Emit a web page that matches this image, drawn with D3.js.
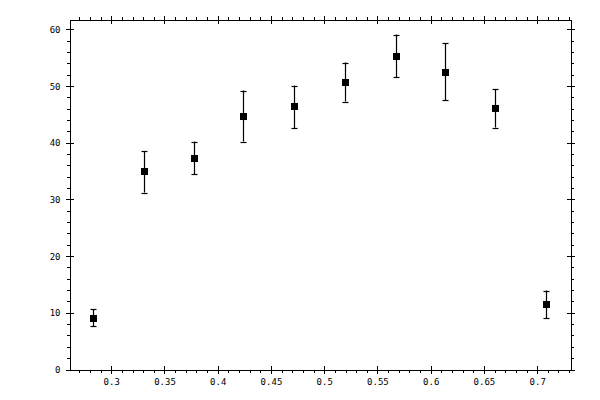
<!DOCTYPE html>
<html>
<head>
<meta charset="utf-8">
<script src="https://cdn.jsdelivr.net/npm/d3@7"></script>
<style>
  body { margin: 0; background: #fff; }
  svg { display: block; }
  .tick text { font-family: "DejaVu Sans Mono", monospace; font-size: 9px; fill: #000; }
  .axis path, .axis line { stroke: #000; shape-rendering: crispEdges; }
</style>
</head>
<body>
<div id="chart"></div>
<script>
// values
const xValues = [0.2824, 0.3303, 0.3773, 0.4242, 0.4721, 0.5191, 0.5673, 0.6139, 0.6608, 0.7087];
const yValues = [9.0, 34.94, 37.23, 44.64, 46.41, 50.64, 55.23, 52.41, 46.06, 11.47];
const yHigh   = [10.59, 38.47, 40.23, 49.23, 50.11, 54.17, 59.11, 57.53, 49.41, 13.94];
const yLow    = [7.64, 31.23, 34.41, 40.23, 42.53, 47.29, 51.53, 47.47, 42.70, 9.0];

const xTicks = [0.3, 0.35, 0.4, 0.45, 0.5, 0.55, 0.6, 0.65, 0.7];
const xTickLabels = ["0.3", "0.35", "0.4", "0.45", "0.5", "0.55", "0.6", "0.65", "0.7"];
const yTicks = [0, 10, 20, 30, 40, 50, 60];
const yTickLabels = ["0", "10", "20", "30", "40", "50", "60"];

const width = 600;
const height = 400;
const plotLeft = 69.5, plotRight = 570.5, plotTop = 19.5, plotBottom = 369.5;

const x = d3.scaleLinear().domain([0.2608, 0.7313]).range([plotLeft, plotRight]);
const y = d3.scaleLinear().domain([0, 61.76]).range([plotBottom, plotTop]);

// minor ticks every 0.01 on x and every 2 on y
const xMinor = d3.range(27, 74).map(d => d / 100).filter(d => !xTicks.some(t => Math.abs(t - d) < 1e-9));
const yMinor = d3.range(2, 62, 2).filter(d => d % 10 !== 0);

const svg = d3.select("#chart").append("svg")
    .attr("width", width)
    .attr("height", height);

function drawAxis(axisFn, scale, transform, ticks, size, labels) {
    const g = svg.append("g")
        .attr("class", "axis")
        .attr("transform", transform)
        .call(axisFn(scale)
            .tickValues(ticks)
            .tickSizeInner(size)
            .tickSizeOuter(0)
            .tickPadding(size > 0 ? 5 : 0)
            .tickFormat((d, i) => labels ? labels[i] : ""));
    return g;
}

// bottom axis
drawAxis(d3.axisBottom, x, `translate(0,${plotBottom})`, xTicks, 4, xTickLabels).select(".domain").remove();
drawAxis(d3.axisBottom, x, `translate(0,${plotBottom})`, xTicks, -4, null).select(".domain").remove();
drawAxis(d3.axisBottom, x, `translate(0,${plotBottom})`, xMinor, 3, null);
// top axis
drawAxis(d3.axisTop, x, `translate(0,${plotTop})`, xTicks, 4, null).select(".domain").remove();
drawAxis(d3.axisTop, x, `translate(0,${plotTop})`, xTicks, -4, null).select(".domain").remove();
drawAxis(d3.axisTop, x, `translate(0,${plotTop})`, xMinor, 3, null);
// left axis
drawAxis(d3.axisLeft, y, `translate(${plotLeft},0)`, yTicks, 4, yTickLabels).select(".domain").remove();
drawAxis(d3.axisLeft, y, `translate(${plotLeft},0)`, yTicks, -4, null).select(".domain").remove();
drawAxis(d3.axisLeft, y, `translate(${plotLeft},0)`, yMinor, 3, null);
// right axis
drawAxis(d3.axisRight, y, `translate(${plotRight},0)`, yTicks, 4, null).select(".domain").remove();
drawAxis(d3.axisRight, y, `translate(${plotRight},0)`, yTicks, -4, null).select(".domain").remove();
drawAxis(d3.axisRight, y, `translate(${plotRight},0)`, yMinor, 3, null);

svg.selectAll(".axis .tick text").filter(function () { return this.textContent === ""; }).remove();

const data = xValues.map((d, i) => ({ x: d, y: yValues[i], hi: yHigh[i], lo: yLow[i] }));

const points = svg.append("g").selectAll("g")
    .data(data)
    .enter().append("g");

// error bars
points.append("line")
    .attr("x1", d => Math.round(x(d.x)) + 0.5)
    .attr("x2", d => Math.round(x(d.x)) + 0.5)
    .attr("y1", d => y(d.hi))
    .attr("y2", d => y(d.lo))
    .attr("stroke", "#000")
    .attr("stroke-width", 1.2);

points.selectAll(".cap")
    .data(d => [d.hi, d.lo].map(v => ({ x: d.x, v: v })))
    .enter().append("line")
    .attr("class", "cap")
    .attr("x1", d => Math.round(x(d.x)) + 0.5 - 3)
    .attr("x2", d => Math.round(x(d.x)) + 0.5 + 3)
    .attr("y1", d => Math.round(y(d.v)) + 0.5)
    .attr("y2", d => Math.round(y(d.v)) + 0.5)
    .attr("stroke", "#000")
    .attr("stroke-width", 1.2);

// square markers
points.append("rect")
    .attr("x", d => Math.round(x(d.x)) + 0.5 - 3.5)
    .attr("y", d => y(d.y) - 3.5)
    .attr("width", 7)
    .attr("height", 7)
    .attr("fill", "#000");
</script>
</body>
</html>
